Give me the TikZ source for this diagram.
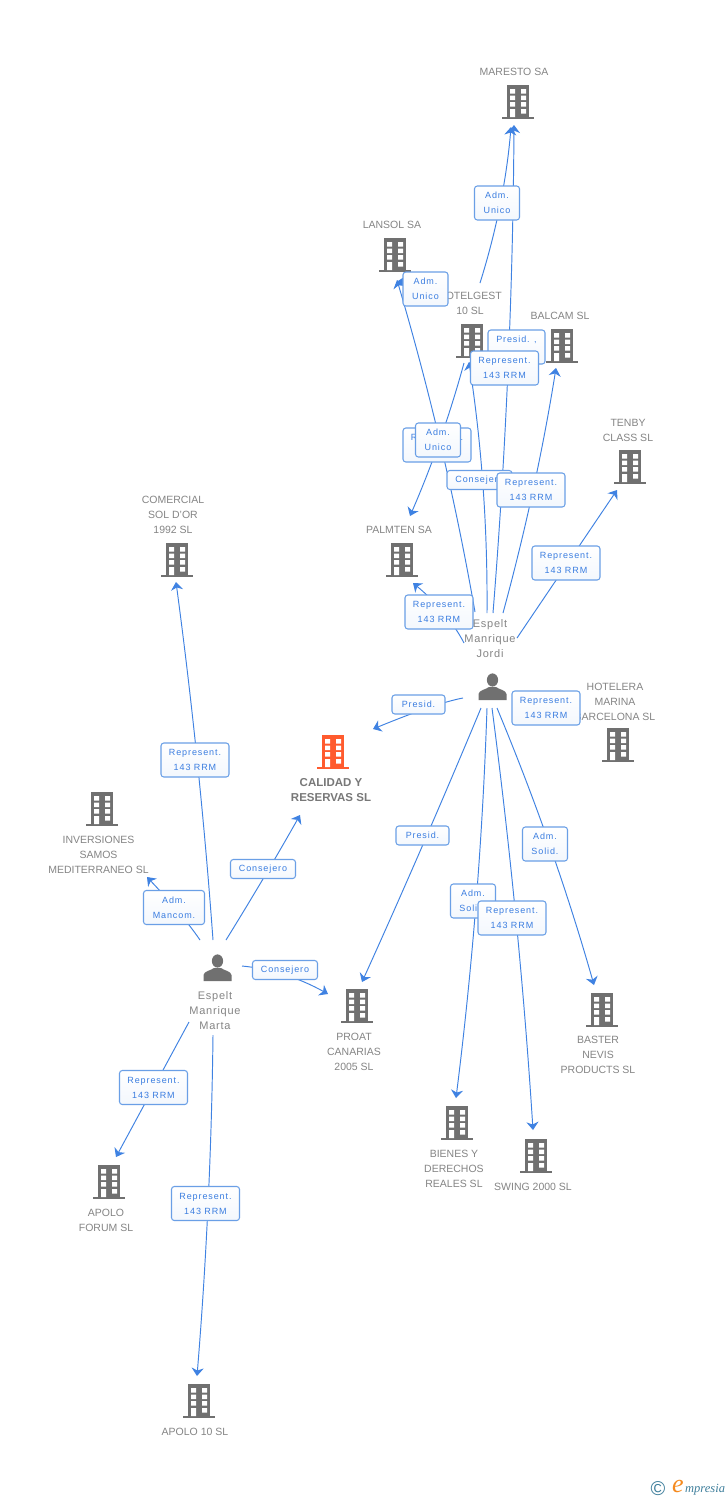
\documentclass[tikz,border=0pt]{standalone}
\usepackage{fontspec}
\setmainfont{Liberation Sans}
\newfontfamily\lblfont[LetterSpace=10]{Liberation Sans}
\newfontfamily\perfont[LetterSpace=7]{Liberation Sans}
\newfontfamily\logofont{Liberation Serif}
\usetikzlibrary{arrows.meta,backgrounds,calc}
\pgfdeclarelayer{front}
\pgfdeclarelayer{top}
\pgfsetlayers{background,main,front,top}
\definecolor{edgeblue}{HTML}{3F82E2}
\definecolor{boxblue}{HTML}{6A9FE6}
\definecolor{txtblue}{HTML}{3A7DE0}
\definecolor{iconGrey}{HTML}{707070}
\definecolor{txtGrey}{HTML}{858585}
\definecolor{hotred}{HTML}{FF5B2E}
\definecolor{logoTeal}{HTML}{3F7F9C}
\definecolor{logoOrange}{HTML}{F58A1F}
\tikzset{
  edge/.style={draw=edgeblue,line width=0.95pt,-{Stealth[length=8pt,width=12pt,inset=2.5pt]}},
  lbl/.style={draw=boxblue,line width=1.05pt,rounded corners=2.8pt,top color=white,bottom color=white!92!boxblue,
    text=txtblue,inner sep=0pt,align=center,font=\lblfont\fontsize{9}{15}\selectfont,
    execute at begin node={\mbox{}\\[-13pt]}},
  lblA/.style={lbl,minimum width=68pt,minimum height=34pt},
  lblB/.style={lbl,minimum width=45pt,minimum height=34pt},
  lblC/.style={lbl,minimum width=65pt,minimum height=19pt},
  lblD/.style={lbl,minimum width=53pt,minimum height=19pt},
  cname/.style={text=txtGrey,inner sep=0pt,align=center,yshift=-1pt,font=\fontsize{10.5}{15}\selectfont},
  pname/.style={text=txtGrey,inner sep=0pt,align=center,font=\perfont\fontsize{11}{15}\selectfont},
  hname/.style={text=txtGrey!90!black,inner sep=0pt,align=center,yshift=-0.5pt,font=\bfseries\fontsize{11.5}{15}\selectfont},
  iconbox/.style={inner sep=0pt,minimum width=32pt,minimum height=34pt},
}
% connector bent like a quadratic curve through one control point
\newcommand{\qedge}[3]{\draw[edge] (#1) .. controls ($(#1)!0.667!(#2)$) and ($(#3)!0.667!(#2)$) .. (#3);}
\newcommand{\bldg}[4]{%
  \node[iconbox] (#1) at (#2,#3) {};
  \begin{scope}[shift={(#2,#3)}]
    \fill[#4] (-11,-17) rectangle (11,15);
    \fill[#4] (-16,15) rectangle (16,17);
    \fill[white] (-8,-13) rectangle (-3,-8.5) (3,-13) rectangle (8,-8.5);
    \fill[white] (-8,-6.5) rectangle (-3,-2) (3,-6.5) rectangle (8,-2);
    \fill[white] (-8,0) rectangle (-3,4.5) (3,0) rectangle (8,4.5);
    \fill[white] (-8,7) rectangle (-3,15) (3,7) rectangle (8,11.5);
  \end{scope}}
\newcommand{\persona}[3]{%
  \node[inner sep=0pt,minimum width=28pt,minimum height=28pt] (#1) at (#2,#3) {};
  \begin{scope}[shift={(#2,#3)}]
    \fill[iconGrey] (0.5,-7) ellipse (5.6 and 6.6);
    \fill[iconGrey] (-13.5,13) -- (-13.5,7) .. controls (-13,3) and (-6,2.5) .. (-3,0) -- (4,0) .. controls (7,2.5) and (14,3) .. (14.5,7) -- (14.5,13) -- cycle;
  \end{scope}}
\begin{document}
\begin{tikzpicture}[x=1pt,y=-1pt]
\useasboundingbox[fill=white] (0,0) rectangle (728,1500);

% buildings
\bldg{maresto}{518}{102}{iconGrey}
\bldg{lansol}{395}{255}{iconGrey}
\bldg{hotelgest}{472}{341}{iconGrey}
\bldg{balcam}{562}{346}{iconGrey}
\bldg{tenby}{630}{467}{iconGrey}
\bldg{palmten}{402}{560}{iconGrey}
\bldg{hotelera}{618}{745}{iconGrey}
\bldg{calidad}{333}{752}{hotred}
\bldg{comercial}{177}{560}{iconGrey}
\bldg{inversiones}{102}{809}{iconGrey}
\bldg{proat}{357}{1006}{iconGrey}
\bldg{baster}{602}{1010}{iconGrey}
\bldg{bienes}{457}{1123}{iconGrey}
\bldg{swing}{536}{1156}{iconGrey}
\bldg{forum}{109}{1182}{iconGrey}
\bldg{apolodiez}{199}{1401}{iconGrey}
\persona{jordi}{492}{687}
\persona{marta}{217}{968}

% company names
\node[cname] (tMaresto) at (514,71) {MARESTO SA};
\node[cname] (tLansol) at (392,224) {LANSOL SA};
\node[cname] (tHotelgest) at (470,302.5) {HOTELGEST\\10 SL};
\node[cname] (tBalcam) at (560,315) {BALCAM SL};
\node[cname] (tTenby) at (628,429.5) {TENBY\\CLASS SL};
\node[cname] (tPalmten) at (399,529) {PALMTEN SA};
\node[cname] (tHotelera) at (615,700.5) {HOTELERA\\MARINA\\BARCELONA SL};
\node[hname] (tCalidad) at (331,789.5) {CALIDAD Y\\RESERVAS SL};
\node[cname] (tComercial) at (173,514) {COMERCIAL\\SOL D'OR\\1992 SL};
\node[cname] (tInversiones) at (98.5,854) {INVERSIONES\\SAMOS\\MEDITERRANEO SL};
\node[cname] (tProat) at (354,1051) {PROAT\\CANARIAS\\2005 SL};
\node[cname] (tBaster) at (598,1054) {BASTER\\NEVIS\\PRODUCTS SL};
\node[cname] (tBienes) at (454,1168) {BIENES Y\\DERECHOS\\REALES SL};
\node[cname] (tSwing) at (533,1186) {SWING 2000 SL};
\node[cname] (tForum) at (106,1219.5) {APOLO\\FORUM SL};
\node[cname] (tApolo) at (195,1431) {APOLO 10 SL};

% edge ends
\coordinate (sMaresto) at (493,613);  \coordinate (aMaresto) at (514,125);
\coordinate (sHotel) at (487,613);    \coordinate (aHotel) at (469,362);
\coordinate (sBalcam) at (503,613);   \coordinate (aBalcam) at (556,368);
\coordinate (sTenby) at (517,638);    \coordinate (aTenby) at (617,490);
\coordinate (sPalm) at (464,643);     \coordinate (aPalm) at (413,583);
\coordinate (sLansol) at (475,612);   \coordinate (aLansol) at (397,280);
\coordinate (sHP) at (464,363);       \coordinate (aHP) at (410,516);
\coordinate (sHM) at (480,283);       \coordinate (aHM) at (511,127);
\coordinate (sHL) at (440,284);       \coordinate (aHL) at (398,281);
\coordinate (sCal) at (463,698);      \coordinate (aCal) at (373,729);
\coordinate (sProat) at (481,708);    \coordinate (aProat) at (362,982);
\coordinate (sBienes) at (487,708);   \coordinate (aBienes) at (456,1098);
\coordinate (sSwing) at (492,708);    \coordinate (aSwing) at (533,1130);
\coordinate (sBaster) at (497,708);   \coordinate (aBaster) at (594,985);
\coordinate (mCom) at (213,940);      \coordinate (aCom) at (176,582);
\coordinate (mCal) at (226,940);      \coordinate (aMCal) at (300,815);
\coordinate (mInv) at (200,940);      \coordinate (aInv) at (147,877);
\coordinate (mPro) at (242,966);      \coordinate (aMPro) at (328,994);
\coordinate (mFor) at (189,1022);     \coordinate (aFor) at (116,1157);
\coordinate (mApo) at (213,1035);     \coordinate (aApo) at (197,1376);

% connectors
\qedge{sMaresto}{512.5,369}{aMaresto}
\qedge{sHotel}{488,486}{aHotel}
\qedge{sBalcam}{536.5,490}{aBalcam}
\draw[edge] (sTenby) -- (aTenby);
\qedge{sPalm}{448,612}{aPalm}
\qedge{sLansol}{446,446}{aLansol}
\qedge{sHP}{443,440}{aHP}
\qedge{sHM}{504.5,205}{aHM}
\draw[edge] (sHL) -- (aHL);
\qedge{sCal}{436,703}{aCal}
\qedge{sProat}{424,845}{aProat}
\qedge{sBienes}{480.5,903}{aBienes}
\qedge{sSwing}{519.5,919}{aSwing}
\qedge{sBaster}{554.5,846}{aBaster}
\qedge{mCom}{200,761}{aCom}
\qedge{mCal}{265,877}{aMCal}
\qedge{mInv}{183,915}{aInv}
\qedge{mPro}{285,970}{aMPro}
\draw[edge] (mFor) -- (aFor);
\qedge{mApo}{211,1205}{aApo}

% edge labels
\begin{pgfonlayer}{front}
\node[lblB] (lHM) at (497,203) {Adm.\\Unico};
\node[lblB] (lHL) at (425.5,289) {Adm.\\Unico};
\node[lbl,minimum width=57pt,minimum height=34pt] (lPres) at (516.5,347) {Presid. ,\\\mbox{}};
\node[lblA] (lRMar) at (504.5,368) {Represent.\\143 RRM};
\node[lblA] (lRLan) at (437,445) {Represent.\\143 RRM};
\node[lblB] (lHP) at (438,440) {Adm.\\Unico};
\node[lblC] (lCons) at (479.5,480) {Consejero};
\node[lblA] (lRBal) at (531,490) {Represent.\\143 RRM};
\node[lblA] (lRTen) at (566,563) {Represent.\\143 RRM};
\node[lblA] (lRPal) at (439,612) {Represent.\\143 RRM};
\node[lblD] (lPCal) at (418.5,704.5) {Presid.};
\node[lblA] (lRHot) at (546,708) {Represent.\\143 RRM};
\node[lblD] (lPPro) at (422.5,835.5) {Presid.};
\node[lblB] (lABas) at (545,844) {Adm.\\Solid.};
\node[lblB] (lABie) at (473,901) {Adm.\\Solid.};
\node[lblA] (lRSwi) at (512,918) {Represent.\\143 RRM};
\node[lblA] (lRCom) at (195,760) {Represent.\\143 RRM};
\node[lblC] (lCCal) at (263,869) {Consejero};
\node[lbl,minimum width=61pt,minimum height=34pt] (lAInv) at (174,907.5) {Adm.\\Mancom.};
\node[lblC] (lCPro) at (285,970) {Consejero};
\node[lblA] (lRFor) at (153.5,1087.5) {Represent.\\143 RRM};
\node[lblA] (lRApo) at (205.5,1203.5) {Represent.\\143 RRM};
\end{pgfonlayer}

% person names and logo
\begin{pgfonlayer}{top}
\node[pname] (tJordi) at (490,639) {Espelt\\Manrique\\Jordi};
\node[pname] (tMarta) at (215,1011) {Espelt\\Manrique\\Marta};
\node[inner sep=0pt,text=logoTeal,font=\fontsize{20}{20}\selectfont] (logoC) at (658,1489) {©};
\node[inner sep=0pt,text=logoOrange,font=\logofont\itshape\fontsize{26}{26}\selectfont] (logoE) at (678,1486) {e};
\node[inner sep=0pt,text=logoTeal,font=\logofont\itshape\fontsize{12.5}{12.5}\selectfont,anchor=west] (logoT) at (685,1490) {mpresia};
\end{pgfonlayer}
\end{tikzpicture}
\end{document}
